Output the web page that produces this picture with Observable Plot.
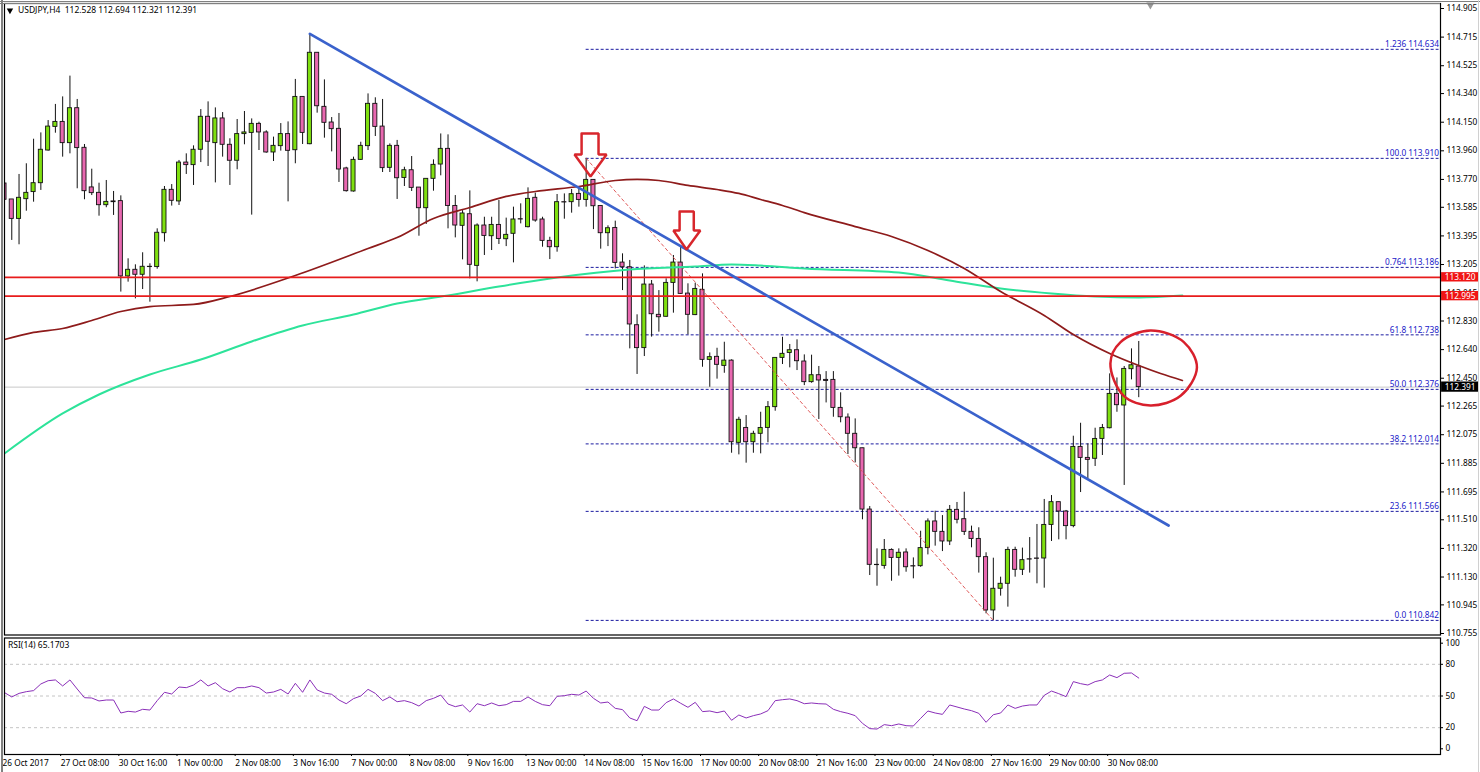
<!DOCTYPE html>
<html>
<head>
<meta charset="utf-8">
<script src="https://cdn.jsdelivr.net/npm/d3@7"></script>
<script src="https://cdn.jsdelivr.net/npm/@observablehq/plot@0.6"></script>
<style>
html,body{margin:0;padding:0;background:#fff;width:1480px;height:772px;overflow:hidden;position:relative}
svg{display:block}
.edge{position:absolute;background:#808080}
</style>
</head>
<body>
<div id="chart"></div>
<div class="edge" style="left:0;top:1px;width:1480px;height:1px"></div>
<div class="edge" style="left:0;top:3px;width:1440px;height:1px"></div>
<div class="edge" style="left:1px;top:0;width:2px;height:772px"></div>
<div class="edge" style="left:1478px;top:0;width:1px;height:772px;background:#d0d0d0"></div>
<script>
const open=[113.743,113.637,113.508,113.639,113.686,113.745,113.962,114.119,114.152,114.011,
114.243,113.980,113.717,113.681,113.599,113.624,113.626,113.126,113.170,113.137,
113.190,113.188,113.413,113.701,113.624,113.882,113.865,113.967,114.186,114.011,
114.175,114.000,113.894,114.071,114.079,114.139,114.082,113.949,113.991,114.071,
113.964,114.318,114.004,114.611,114.252,114.148,114.106,113.843,113.690,113.900,
113.991,114.272,114.121,113.847,113.993,113.780,113.831,113.716,113.579,113.774,
113.869,113.973,113.594,113.462,113.539,113.196,113.464,113.393,113.468,113.373,
113.409,113.506,113.453,113.648,113.504,113.362,113.320,113.619,113.619,113.674,
113.634,113.767,113.594,113.413,113.448,113.218,113.187,112.802,112.650,113.072,
112.871,112.858,113.083,113.218,113.012,112.869,113.037,112.572,112.592,112.532,
112.567,112.021,112.120,112.025,112.081,112.120,112.258,112.585,112.618,112.636,
112.561,112.424,112.470,112.439,112.439,112.253,112.189,112.081,111.985,111.578,
111.211,111.204,111.310,111.257,111.293,111.202,111.202,111.322,111.499,111.430,
111.366,111.576,111.514,111.430,111.383,111.262,110.908,111.052,111.085,111.310,
111.178,111.248,111.253,111.253,111.476,111.627,111.565,111.468,111.994,111.921,
111.915,112.047,112.118,112.346,112.269,112.510,112.528];
const close=[113.635,113.508,113.648,113.681,113.745,113.967,114.121,114.152,114.011,114.243,
113.978,113.692,113.679,113.599,113.621,113.619,113.126,113.170,113.137,113.190,
113.188,113.416,113.701,113.628,113.882,113.865,113.967,114.186,114.020,114.175,
114.000,113.894,114.071,114.082,114.139,114.082,113.949,113.993,114.071,113.960,
114.318,114.079,114.611,114.256,114.146,114.104,113.836,113.692,113.900,113.993,
114.272,114.119,113.845,113.993,113.778,113.831,113.714,113.579,113.774,113.867,
113.973,113.594,113.464,113.544,113.203,113.464,113.395,113.468,113.375,113.402,
113.504,113.504,113.641,113.497,113.362,113.320,113.619,113.617,113.672,113.634,
113.767,113.592,113.413,113.446,113.216,113.187,112.807,112.650,113.072,112.875,
112.855,113.083,113.218,113.010,112.871,113.043,112.572,112.590,112.539,112.567,
112.025,112.174,112.025,112.081,112.120,112.258,112.585,112.612,112.636,112.563,
112.424,112.470,112.435,112.432,112.253,112.191,112.081,111.985,111.578,111.211,
111.209,111.310,111.257,111.291,111.195,111.200,111.322,111.499,111.430,111.366,
111.576,111.510,111.430,111.383,111.262,110.908,111.052,111.085,111.310,111.178,
111.242,111.246,111.251,111.476,111.627,111.565,111.468,111.994,111.921,111.908,
112.047,112.120,112.346,112.271,112.512,112.536,112.391];
const high=[113.743,113.637,113.803,113.874,114.037,114.079,114.161,114.268,114.318,114.456,
114.301,114.002,113.838,113.745,113.763,113.690,113.661,113.243,113.203,113.283,
113.210,113.442,113.723,113.736,113.896,113.940,113.993,114.234,114.285,114.245,
114.214,114.040,114.168,114.221,114.172,114.150,114.093,114.051,114.141,114.152,
114.434,114.318,114.737,114.611,114.431,114.181,114.208,113.851,113.918,114.017,
114.338,114.312,114.301,114.006,114.029,113.851,113.922,113.716,113.774,113.900,
114.072,114.066,113.663,113.563,113.694,113.475,113.519,113.519,113.630,113.513,
113.586,113.608,113.714,113.679,113.519,113.386,113.670,113.674,113.703,113.707,
113.910,113.767,113.594,113.462,113.493,113.276,113.232,112.871,113.196,113.099,
113.032,113.110,113.265,113.320,113.077,113.081,113.143,112.618,112.649,112.689,
112.572,112.191,112.202,112.098,112.224,112.295,112.585,112.722,112.674,112.705,
112.605,112.603,112.528,112.494,112.494,112.353,112.213,112.180,111.985,111.598,
111.317,111.379,111.317,111.317,111.317,111.257,111.434,111.516,111.567,111.538,
111.605,111.625,111.693,111.468,111.457,111.291,111.255,111.129,111.328,111.328,
111.322,111.392,111.479,111.645,111.671,111.627,111.572,112.065,112.151,112.014,
112.118,112.143,112.479,112.452,112.528,112.645,112.694];
const low=[113.531,113.365,113.336,113.559,113.619,113.697,113.958,114.077,113.918,113.940,
113.708,113.635,113.663,113.526,113.582,113.531,113.022,113.088,112.977,113.039,
112.955,113.174,113.354,113.593,113.597,113.803,113.730,113.882,113.856,113.747,
113.918,113.730,113.834,114.000,113.533,113.962,113.944,113.889,113.958,113.621,
113.874,114.002,114.000,114.210,114.044,113.953,113.750,113.686,113.686,113.896,
113.962,114.055,113.816,113.816,113.637,113.723,113.690,113.393,113.471,113.692,
113.794,113.442,113.382,113.236,113.110,113.090,113.265,113.298,113.338,113.324,
113.216,113.475,113.448,113.486,113.320,113.238,113.287,113.506,113.546,113.586,
113.586,113.437,113.307,113.324,113.176,113.032,112.645,112.475,112.594,112.723,
112.756,112.855,112.882,113.006,112.738,112.866,112.523,112.390,112.444,112.483,
111.952,111.941,111.886,111.952,111.948,112.021,112.231,112.541,112.519,112.501,
112.401,112.417,112.176,112.286,112.191,112.154,111.943,111.888,111.510,111.140,
111.069,111.182,111.102,111.136,111.162,111.118,111.195,111.277,111.335,111.299,
111.339,111.483,111.406,111.324,111.156,110.886,110.842,111.003,110.930,111.129,
111.140,111.156,111.085,111.056,111.366,111.377,111.377,111.457,111.691,111.782,
111.864,111.937,112.114,112.224,111.738,112.439,112.321];
const rsi=[53.2,49.1,52.5,54.1,55.1,61.4,64.5,65.2,59.5,65.2,
56.6,48.4,48.1,45.3,46.2,46.2,33.9,35.5,34.8,37.4,
36.7,45.6,53.5,51.9,58.5,57.9,60.4,65.2,59.5,62.6,
56.9,53.8,57.9,57.9,59.5,57.9,52.8,53.8,56.3,51.9,
62.0,53.5,65.2,55.7,52.8,51.6,46.2,42.7,47.5,50.0,
56.3,52.5,45.6,49.1,44.6,45.6,43.7,40.5,45.6,47.8,
50.9,42.4,39.9,41.5,34.8,42.7,40.8,43.4,40.8,41.8,
44.9,44.9,49.1,44.9,41.8,40.8,49.7,50.3,51.6,50.9,
54.7,47.8,43.4,44.3,38.3,37.1,29.2,26.6,40.2,36.7,
36.7,43.7,47.2,43.1,39.3,44.0,35.2,35.8,34.2,35.8,
27.0,32.0,29.2,31.4,33.0,36.1,45.6,46.5,47.2,45.6,
42.7,43.4,42.7,42.4,37.4,35.2,33.6,31.4,24.1,19.1,
18.7,22.9,21.9,23.5,21.9,21.6,28.8,35.8,33.9,32.6,
41.5,39.6,37.7,36.1,33.6,25.1,32.3,33.9,41.5,38.3,
40.5,41.5,41.5,50.6,54.7,52.2,49.4,63.6,61.7,60.4,
63.6,65.2,69.9,67.4,71.5,71.8,67.0];

const maSlowBars=[0,4,8,12,16,20,26,31,40,50,54,59,64,69,73,79,84,87,90,94,98,101,104,107,110,117,122,127,132,137,143,147,152,156,159,162];
const maSlowValues=[112.707,112.754,112.780,112.833,112.893,112.926,112.940,112.993,113.132,113.311,113.384,113.511,113.584,113.657,113.690,113.723,113.763,113.770,113.763,113.730,113.703,113.677,113.637,113.597,113.550,113.457,113.391,113.298,113.179,113.026,112.867,112.740,112.614,112.534,112.481,112.435];
const maLongBars=[0,8,13,20,27,34,41,48,54,61,68,76,86,95,100,104,110,123,130,137,144,150,156,162];
const maLongValues=[111.950,112.216,112.342,112.475,112.574,112.694,112.800,112.873,112.946,112.999,113.059,113.119,113.172,113.192,113.205,113.198,113.179,113.152,113.099,113.046,113.013,112.993,112.986,112.999];

const fibValues=[114.634,113.910,113.186,112.738,112.376,112.014,111.566,110.842];
const fibNames=["1.236","100.0","0.764","61.8","50.0","38.2","23.6","0.0"];
const levelValues=[113.120,112.995];
const lastPrice=112.391;
const priceTicks=[114.905,114.715,114.525,114.340,114.150,113.960,113.770,113.585,113.395,113.205,113.015,112.830,112.640,112.450,112.265,112.075,111.885,111.695,111.510,111.320,111.130,110.945,110.755];
const rsiTicks=[100,80,50,20,0];
const rsiGrid=[80,50,20];
const timeLabels=["26 Oct 2017","27 Oct 08:00","30 Oct 16:00","1 Nov 00:00","2 Nov 08:00","3 Nov 16:00","7 Nov 00:00","8 Nov 08:00","9 Nov 16:00","13 Nov 00:00","14 Nov 08:00","15 Nov 16:00","17 Nov 00:00","20 Nov 08:00","21 Nov 16:00","23 Nov 00:00","24 Nov 08:00","27 Nov 16:00","29 Nov 00:00","30 Nov 08:00"];
const trendBars=[42,160.1], trendValues=[114.737,111.472];
const fibDiagBars=[80,136], fibDiagValues=[113.910,110.842];
const arrowOneBars=[79.37,81.7,81.7,82.8,80.6,78.4,79.37,79.37];
const arrowOneValues=[114.075,114.075,113.936,113.936,113.789,113.936,113.936,114.075];
const arrowTwoBars=[92.85,94.8,94.8,95.7,93.8,92.0,92.85,92.85];
const arrowTwoValues=[113.557,113.557,113.431,113.431,113.305,113.431,113.431,113.557];
const circleBars=[157.6,162.2,164,161.8,157.6,153.9,152.1,153.5];
const circleValues=[112.767,112.690,112.521,112.335,112.269,112.335,112.548,112.690];

const FONT='"Noto Sans",sans-serif';
const BAR_MAX=197.5;
const pairs=(xs,ys)=>xs.map((x,k)=>({x,y:ys[k]}));
const bars=open.map((o,i)=>({i,o,c:close[i],h:high[i],l:low[i]}));
const xScale={type:"linear",domain:[0,BAR_MAX],range:[4,1440]};
const fmt=d3.format(".3f");

const main=Plot.plot({
  width:1480,height:642,marginLeft:4,marginRight:40,marginTop:3,marginBottom:7.5,
  style:{fontFamily:FONT,fontSize:"8.3px",background:"#fff",color:"#000"},
  x:{...xScale,axis:null},
  y:{type:"linear",domain:[110.755,114.905],range:[633,8]},
  marks:[
    Plot.ruleY([lastPrice],{x1:0,x2:BAR_MAX,stroke:"#c8c8c8",strokeWidth:1,clip:"frame"}),
    Plot.ruleY(fibValues,{x1:80,x2:197.3,stroke:"#1a1aa0",strokeWidth:1,strokeDasharray:"3,2"}),
    Plot.ruleX(bars,{x:"i",y1:"l",y2:"h",stroke:"#111",strokeWidth:1,clip:"frame"}),
    Plot.rect(bars,{x1:d=>d.i-0.28,x2:d=>d.i+0.28,y1:"o",y2:"c",fill:d=>d.c>=d.o?"#7fe010":"#e868b0",stroke:"#111",strokeWidth:0.9,clip:"frame"}),
    Plot.line(pairs(fibDiagBars,fibDiagValues),{x:"x",y:"y",stroke:"#dd4a4a",strokeWidth:0.9,strokeDasharray:"3,3"}),
    Plot.line(pairs(maLongBars,maLongValues),{x:"x",y:"y",stroke:"#2de39a",strokeWidth:2,curve:"monotone-x",clip:"frame"}),
    Plot.line(pairs(maSlowBars,maSlowValues),{x:"x",y:"y",stroke:"#8e1b1b",strokeWidth:1.7,curve:"monotone-x",clip:"frame"}),
    Plot.ruleY(levelValues,{x1:0,x2:BAR_MAX,stroke:"#e81c1c",strokeWidth:1.6}),
    Plot.line(pairs(trendBars,trendValues),{x:"x",y:"y",stroke:"#3a62cc",strokeWidth:2.7}),
    Plot.line(pairs(arrowOneBars,arrowOneValues),{x:"x",y:"y",stroke:"#d8262c",strokeWidth:2.5,strokeLinejoin:"miter"}),
    Plot.line(pairs(arrowTwoBars,arrowTwoValues),{x:"x",y:"y",stroke:"#d8262c",strokeWidth:2.5,strokeLinejoin:"miter"}),
    Plot.line(pairs(circleBars,circleValues),{x:"x",y:"y",stroke:"#d8202c",strokeWidth:2.5,curve:"catmull-rom-closed"}),
    Plot.text(fibValues,{x:197.3,y:d=>d,dy:-4.6,text:(d,k)=>`${fibNames[k]} ${fmt(d)}`,textAnchor:"end",fill:"#2020c8",fontSize:8.3}),
    Plot.axisY({anchor:"right",ticks:priceTicks,tickFormat:fmt,tickSize:3,tickPadding:3,label:null,fontSize:8.3}),
    Plot.rect(levelValues,{x1:197.65,x2:202.75,y1:d=>d-0.031,y2:d=>d+0.031,fill:"#f01414"}),
    Plot.text(levelValues,{x:200.2,y:d=>d,text:d=>fmt(d),fill:"#fff",fontSize:8.3}),
    Plot.rect([lastPrice],{x1:197.65,x2:202.75,y1:d=>d-0.034,y2:d=>d+0.034,fill:"#000"}),
    Plot.text([lastPrice],{x:200.2,y:d=>d,text:d=>fmt(d),fill:"#fff",fontSize:8.3}),
    Plot.dot([{x:0.75,y:114.892}],{x:"x",y:"y",symbol:"triangle",rotate:180,r:2.4,fill:"#000"}),
    Plot.dot([{x:157.6,y:114.93}],{x:"x",y:"y",symbol:"triangle",rotate:180,r:3,fill:"#999"}),
    Plot.text(["USDJPY,H4  112.528 112.694 112.321 112.391"],{frameAnchor:"top-left",dx:13.5,dy:7,lineAnchor:"middle",fontSize:8.5,fill:"#000"}),
    Plot.frame({stroke:"#000",strokeWidth:1.2})
  ]
});

const lower=Plot.plot({
  width:1480,height:136,marginLeft:4,marginRight:40,marginTop:1.5,marginBottom:18,
  style:{fontFamily:FONT,fontSize:"8.3px",background:"transparent",color:"#000",marginTop:"-6px",position:"relative"},
  x:xScale,
  y:{type:"linear",domain:[0,100],range:[112.3,6.7]},
  marks:[
    Plot.ruleY(rsiGrid,{x1:0,x2:BAR_MAX,stroke:"#c4c4c4",strokeWidth:1,strokeDasharray:"3,3"}),
    Plot.line(rsi,{x:(d,i)=>i,y:d=>d,stroke:"#8a2fb8",strokeWidth:1,clip:"frame"}),
    Plot.text(["RSI(14) 65.1703"],{frameAnchor:"top-left",dx:3.5,dy:7,lineAnchor:"middle",fontSize:8.5,fill:"#000"}),
    Plot.axisY({anchor:"right",ticks:rsiTicks,tickSize:2,tickPadding:3,label:null,fontSize:8.3}),
    Plot.axisX({ticks:timeLabels.map((_,k)=>k*8),tickFormat:d=>timeLabels[d/8],tickSize:2,tickPadding:4,textAnchor:"start",dx:-2,label:null,fontSize:8.3}),
    Plot.frame({stroke:"#000",strokeWidth:1.2})
  ]
});
const root=document.getElementById("chart");
root.append(main,lower);
</script>
</body>
</html>
